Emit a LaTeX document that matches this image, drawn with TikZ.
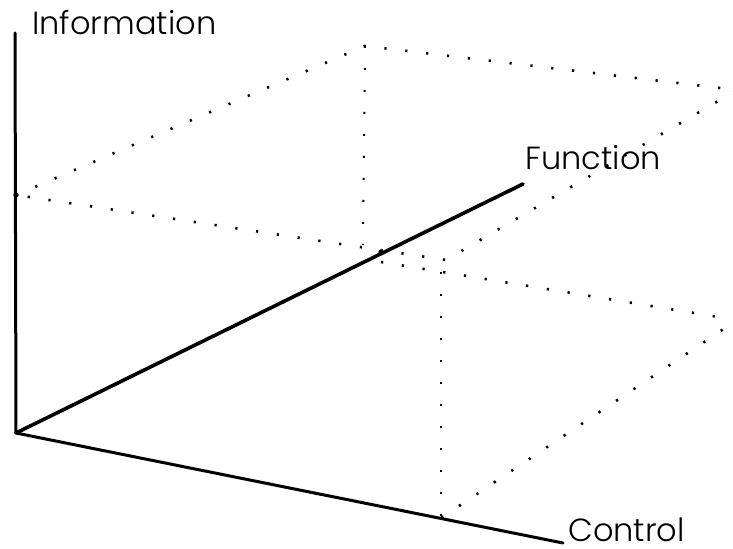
\documentclass[tikz,border=0pt]{standalone}
\usepackage{fontspec}
\setmainfont{Poppins Light}
\begin{document}
\begin{tikzpicture}[x=0.5pt,y=-0.5pt,
    axisline/.style={line width=1.5pt, line cap=round},
    hidden/.style={line width=1.3pt, dash pattern=on 1.1pt off 9.4pt},
    drop/.style={line width=1pt, dash pattern=on 0.9pt off 10.1pt},
    axislabel/.style={anchor=base west, inner sep=0pt, font=\fontsize{16}{19}\selectfont}]
    \useasboundingbox (0,0) rectangle (733,549);
    % axes
    \coordinate (O) at (16,433);
    \coordinate (Itop) at (15,33);
    \coordinate (Fend) at (523,184);
    \coordinate (Cend) at (563,543);
    \draw[axisline] (O) -- (Itop);
    \draw[axisline, line width=1.8pt] (O) -- (Fend);
    \draw[axisline] (O) -- (Cend);
    \node[axislabel] (info) at (32,35) {Information};
    \node[axislabel] (func) at (525,170) {Function};
    \node[axislabel] (ctrl) at (568,541) {Control};
    % box corners
    \coordinate (I) at (16,195);
    \coordinate (IF) at (365,46);
    \coordinate (IC) at (446,260);
    \coordinate (IFC) at (737,90);
    \coordinate (F) at (363,245);
    \coordinate (Fb) at (381,262);
    \coordinate (FC) at (737,320);
    \coordinate (C) at (441,518);
    \coordinate (Ct) at (441,272);
    \fill (I) circle (1.3pt);
    \fill (381,252) circle (1.3pt);
    % top face
    \draw[hidden] (I) -- (IF) -- (IFC) -- (IC) -- (I);
    % lower edges
    \draw[hidden] (Fb) -- (FC) -- (C);
    \draw[drop] (IF) -- (F);
    \draw[drop] (Ct) -- (C);
\end{tikzpicture}
\end{document}
